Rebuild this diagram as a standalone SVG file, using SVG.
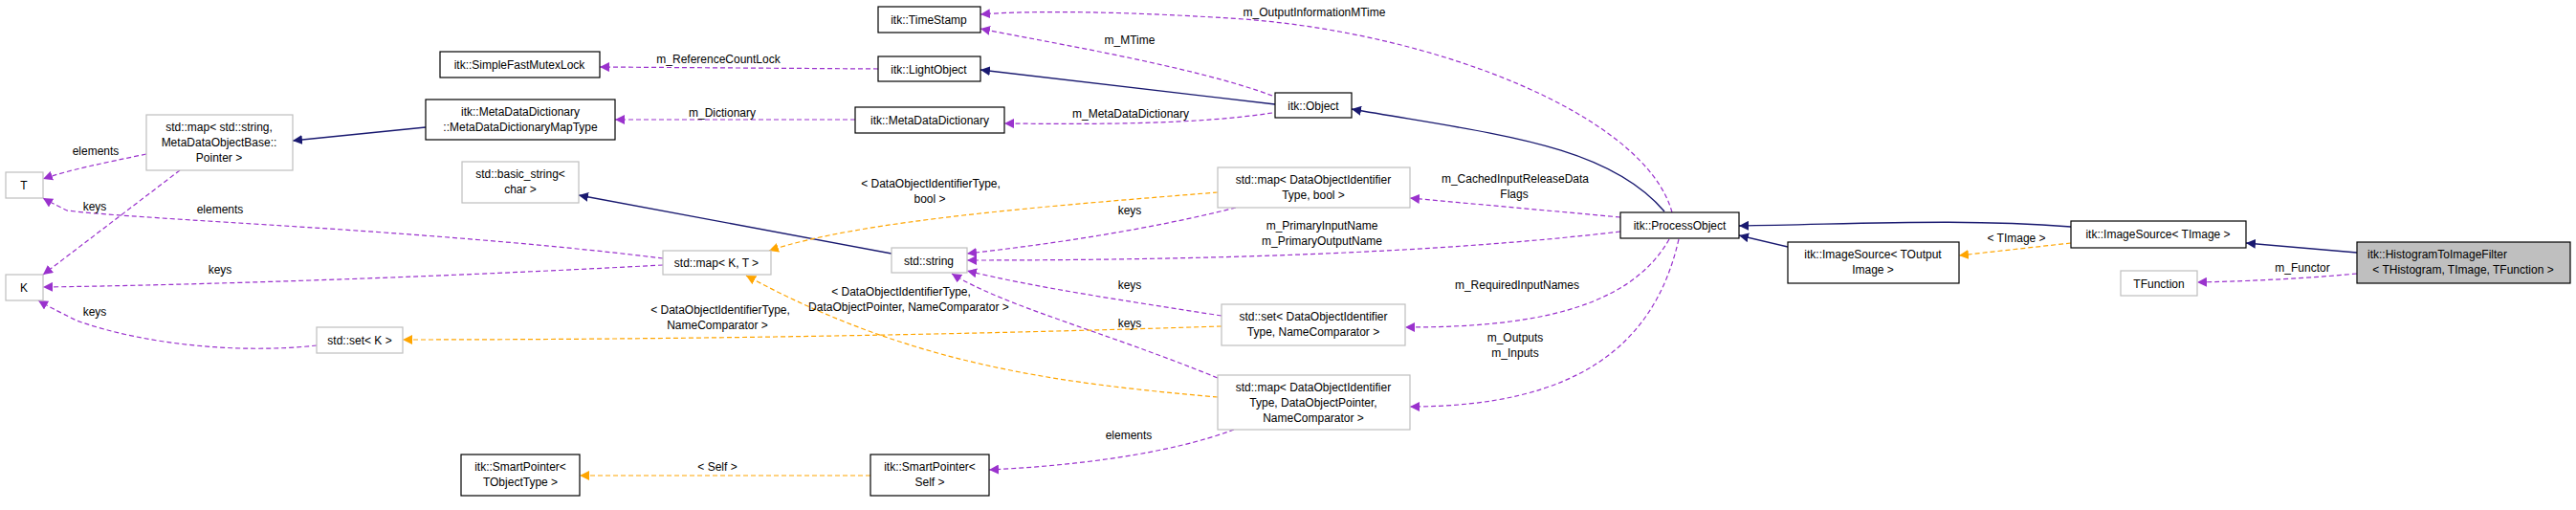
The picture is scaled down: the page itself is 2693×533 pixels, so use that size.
<svg xmlns="http://www.w3.org/2000/svg" width="2693" height="533" viewBox="0 0 2693 533">
<style>
text{font-family:"Liberation Sans",Arial,sans-serif;font-size:12px;fill:#000;text-anchor:middle}
.n{fill:#fff;stroke:#000;stroke-width:1.2}
.g{fill:#fff;stroke:#bfbfbf;stroke-width:1.2}
.h{fill:#bfbfbf;stroke:#000;stroke-width:1.2}
.i{fill:none;stroke:#191970;stroke-width:1.4}
.p{fill:none;stroke:#9a32cd;stroke-width:1.2;stroke-dasharray:5,3}
.o{fill:none;stroke:#ffa500;stroke-width:1.2;stroke-dasharray:5,3}
</style>
<defs>
<marker id="ai" viewBox="0 0 10 10" refX="10" refY="5" markerWidth="10" markerHeight="10" markerUnits="userSpaceOnUse" orient="auto"><path d="M0,0L10,5L0,10z" fill="#191970"/></marker>
<marker id="ap" viewBox="0 0 10 10" refX="10" refY="5" markerWidth="10" markerHeight="10" markerUnits="userSpaceOnUse" orient="auto"><path d="M0,0L10,5L0,10z" fill="#9a32cd"/></marker>
<marker id="ao" viewBox="0 0 10 10" refX="10" refY="5" markerWidth="10" markerHeight="10" markerUnits="userSpaceOnUse" orient="auto"><path d="M0,0L10,5L0,10z" fill="#ffa500"/></marker>
</defs>
<g id="edges">
<path class="i" marker-end="url(#ai)" d="M1333,109L1025,73"/>
<path class="p" marker-end="url(#ap)" d="M1330,100C1250,70 1100,45 1025,30"/>
<path class="p" marker-end="url(#ap)" d="M1748,222C1720,120 1500,35 1300,20C1150,10 1060,12 1025,15"/>
<path class="p" marker-end="url(#ap)" d="M918,72L627,70"/>
<path class="p" marker-end="url(#ap)" d="M1330,118C1250,130 1150,130 1050,129"/>
<path class="p" marker-end="url(#ap)" d="M894,125L643,125"/>
<path class="i" marker-end="url(#ai)" d="M445,133L306,147"/>
<path class="i" marker-end="url(#ai)" d="M1740,221C1680,150 1560,140 1413,114"/>
<path class="i" marker-end="url(#ai)" d="M2165,237C2050,228 1950,234 1818,236"/>
<path class="i" marker-end="url(#ai)" d="M1869,258L1818,246"/>
<path class="o" marker-end="url(#ao)" d="M2165,254L2048,267"/>
<path class="i" marker-end="url(#ai)" d="M2464,264L2348,254"/>
<path class="p" marker-end="url(#ap)" d="M2464,286C2400,292 2340,294 2297,295"/>
<path class="p" marker-end="url(#ap)" d="M1694,227L1474,207"/>
<path class="p" marker-end="url(#ap)" d="M1694,242C1500,265 1250,272 1011,272"/>
<path class="p" marker-end="url(#ap)" d="M1292,217C1200,240 1100,255 1011,265"/>
<path class="p" marker-end="url(#ap)" d="M1277,330C1180,315 1080,300 1011,283"/>
<path class="p" marker-end="url(#ap)" d="M1273,395C1150,345 1050,320 995,286"/>
<path class="i" marker-end="url(#ai)" d="M932,265L605,204"/>
<path class="o" marker-end="url(#ao)" d="M1273,201C1100,215 900,230 804,262"/>
<path class="o" marker-end="url(#ao)" d="M1273,415C1100,400 950,380 780,288"/>
<path class="o" marker-end="url(#ao)" d="M1277,341C1000,350 700,355 421,355"/>
<path class="p" marker-end="url(#ap)" d="M1745,250C1700,330 1580,342 1469,342"/>
<path class="p" marker-end="url(#ap)" d="M1755,250C1730,360 1650,425 1474,425"/>
<path class="p" marker-end="url(#ap)" d="M1290,449C1220,475 1120,487 1034,491"/>
<path class="o" marker-end="url(#ao)" d="M910,497L606,497"/>
<path class="p" marker-end="url(#ap)" d="M153,161C110,170 70,178 45,187"/>
<path class="p" marker-end="url(#ap)" d="M188,178L45,287"/>
<path class="p" marker-end="url(#ap)" d="M693,270C450,240 150,230 70,220C60,215 50,210 45,207"/>
<path class="p" marker-end="url(#ap)" d="M693,277C450,290 200,298 45,300"/>
<path class="p" marker-end="url(#ap)" d="M331,361C250,370 150,360 80,335C60,325 50,320 40,314"/>
</g>
<g id="labels">
<text x="1374" y="17">m_OutputInformationMTime</text>
<text x="1181" y="46">m_MTime</text>
<text x="751" y="66">m_ReferenceCountLock</text>
<text x="1182" y="123">m_MetaDataDictionary</text>
<text x="755" y="122">m_Dictionary</text>
<text x="973" y="196">&lt; DataObjectIdentifierType,</text>
<text x="972" y="212">bool &gt;</text>
<text x="1181" y="224">keys</text>
<text x="1382" y="240">m_PrimaryInputName</text>
<text x="1382" y="256">m_PrimaryOutputName</text>
<text x="1584" y="191">m_CachedInputReleaseData</text>
<text x="1583" y="207">Flags</text>
<text x="1181" y="302">keys</text>
<text x="942" y="309">&lt; DataObjectIdentifierType,</text>
<text x="950" y="325">DataObjectPointer, NameComparator &gt;</text>
<text x="1181" y="342">keys</text>
<text x="1586" y="302">m_RequiredInputNames</text>
<text x="1584" y="357">m_Outputs</text>
<text x="1584" y="373">m_Inputs</text>
<text x="1180" y="459">elements</text>
<text x="100" y="162">elements</text>
<text x="99" y="220">keys</text>
<text x="230" y="223">elements</text>
<text x="230" y="286">keys</text>
<text x="99" y="330">keys</text>
<text x="753" y="328">&lt; DataObjectIdentifierType,</text>
<text x="750" y="344">NameComparator &gt;</text>
<text x="750" y="492">&lt; Self &gt;</text>
<text x="2108" y="253">&lt; TImage &gt;</text>
<text x="2407" y="284">m_Functor</text>
</g>
<g id="n_TimeStamp"><rect class="n" x="918" y="7" width="107" height="27"/><text x="971" y="25">itk::TimeStamp</text></g>
<g id="n_LightObject"><rect class="n" x="918" y="59" width="107" height="26"/><text x="971" y="77">itk::LightObject</text></g>
<g id="n_MetaDataDictionary"><rect class="n" x="894" y="112" width="156" height="27"/><text x="972" y="130">itk::MetaDataDictionary</text></g>
<g id="n_Object"><rect class="n" x="1333" y="97" width="80" height="26"/><text x="1373" y="115">itk::Object</text></g>
<g id="n_SimpleFastMutexLock"><rect class="n" x="460" y="54" width="167" height="27"/><text x="543" y="72">itk::SimpleFastMutexLock</text></g>
<g id="n_MapType"><rect class="n" x="445" y="104" width="198" height="42"/><text x="544" y="121">itk::MetaDataDictionary</text><text x="544" y="137">::MetaDataDictionaryMapType</text></g>
<g id="n_mapString"><rect class="g" x="153" y="120" width="153" height="58"/><text x="229" y="137">std::map&lt; std::string,</text><text x="229" y="153">MetaDataObjectBase::</text><text x="229" y="169">Pointer &gt;</text></g>
<g id="n_T"><rect class="g" x="6" y="180" width="39" height="27"/><text x="25" y="198">T</text></g>
<g id="n_K"><rect class="g" x="6" y="287" width="39" height="27"/><text x="25" y="305">K</text></g>
<g id="n_basic_string"><rect class="g" x="483" y="169" width="122" height="43"/><text x="544" y="186">std::basic_string&lt;</text><text x="544" y="202">char &gt;</text></g>
<g id="n_mapKT"><rect class="g" x="693" y="262" width="113" height="25"/><text x="749" y="279">std::map&lt; K, T &gt;</text></g>
<g id="n_setK"><rect class="g" x="331" y="342" width="90" height="27"/><text x="376" y="360">std::set&lt; K &gt;</text></g>
<g id="n_SmartPointerT"><rect class="n" x="482" y="475" width="124" height="43"/><text x="544" y="492">itk::SmartPointer&lt;</text><text x="544" y="508">TObjectType &gt;</text></g>
<g id="n_mapBool"><rect class="g" x="1273" y="175" width="201" height="42"/><text x="1373" y="192">std::map&lt; DataObjectIdentifier</text><text x="1373" y="208">Type, bool &gt;</text></g>
<g id="n_string"><rect class="g" x="932" y="259" width="79" height="26"/><text x="971" y="277">std::string</text></g>
<g id="n_setDOI"><rect class="g" x="1277" y="318" width="192" height="43"/><text x="1373" y="335">std::set&lt; DataObjectIdentifier</text><text x="1373" y="351">Type, NameComparator &gt;</text></g>
<g id="n_mapDOP"><rect class="g" x="1273" y="392" width="201" height="57"/><text x="1373" y="409">std::map&lt; DataObjectIdentifier</text><text x="1373" y="425">Type, DataObjectPointer,</text><text x="1373" y="441">NameComparator &gt;</text></g>
<g id="n_SmartPointerSelf"><rect class="n" x="910" y="475" width="124" height="43"/><text x="972" y="492">itk::SmartPointer&lt;</text><text x="972" y="508">Self &gt;</text></g>
<g id="n_ProcessObject"><rect class="n" x="1694" y="222" width="124" height="27"/><text x="1756" y="240">itk::ProcessObject</text></g>
<g id="n_ImageSourceTImage"><rect class="n" x="2165" y="231" width="183" height="28"/><text x="2256" y="249">itk::ImageSource&lt; TImage &gt;</text></g>
<g id="n_ImageSourceTOutput"><rect class="n" x="1869" y="253" width="179" height="43"/><text x="1958" y="270">itk::ImageSource&lt; TOutput</text><text x="1958" y="286">Image &gt;</text></g>
<g id="n_TFunction"><rect class="g" x="2217" y="283" width="80" height="26"/><text x="2257" y="301">TFunction</text></g>
<g id="n_HistogramToImageFilter"><rect class="h" x="2464" y="253" width="223" height="43"/><text x="2475" y="270" style="text-anchor:start">itk::HistogramToImageFilter</text><text x="2575" y="286">&lt; THistogram, TImage, TFunction &gt;</text></g>
</svg>
